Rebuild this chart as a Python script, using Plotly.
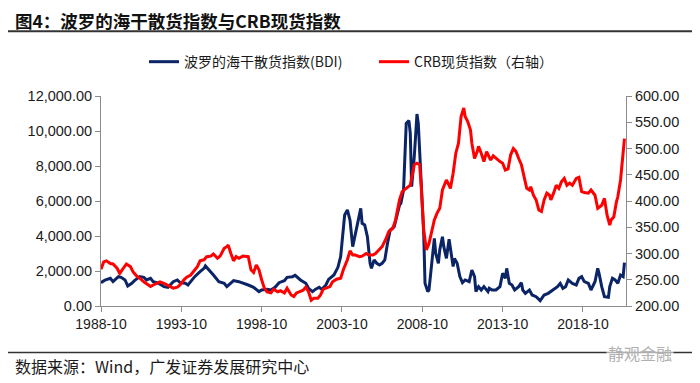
import plotly.graph_objects as go

title_text = "图4：波罗的海干散货指数与CRB现货指数"
source_text = "数据来源：Wind，广发证券发展研究中心"
watermark_text = "静观金融"
bdi_name = "波罗的海干散货指数(BDI)"
crb_name = "CRB现货指数（右轴）"

bdi_dates = ["1988-10","1989-01","1989-05","1989-07","1989-11","1990-01","1990-04","1990-06","1990-09","1990-11",
             "1991-03","1991-06","1991-08","1991-11","1992-01","1992-05","1992-09","1992-12","1993-04","1993-07",
             "1993-09","1994-01","1994-03","1994-06","1994-08","1994-12","1995-03","1995-04","1995-07","1995-10",
             "1996-02","1996-06","1996-08","1996-11","1997-01","1997-05","1997-09","1997-12","1998-04","1998-08",
             "1998-10","1999-02","1999-05","1999-08","1999-11","2000-03","2000-05","2000-09","2000-11","2001-03",
             "2001-07","2001-09","2001-12","2002-02","2002-05","2002-07","2002-10","2002-12","2003-04","2003-07",
             "2003-09","2003-11","2003-12","2004-02","2004-04","2004-06","2004-08","2004-09","2004-11","2004-12",
             "2005-01","2005-03","2005-05","2005-07","2005-08","2005-10","2005-12","2006-02","2006-04","2006-06",
             "2006-08","2006-10","2007-01","2007-03","2007-05","2007-06","2007-08","2007-10","2007-12","2008-01",
             "2008-02","2008-04","2008-06","2008-07","2008-09","2008-11","2008-12","2009-02","2009-03","2009-04",
             "2009-05","2009-07","2009-08","2009-10","2009-11","2010-01","2010-02","2010-04","2010-06","2010-08",
             "2010-09","2010-10","2010-12","2011-02","2011-04","2011-06","2011-09","2011-11","2012-01","2012-02",
             "2012-04","2012-06","2012-08","2012-11","2012-12","2013-02","2013-05","2013-08","2013-10","2013-12",
             "2014-01","2014-03","2014-05","2014-07","2014-10","2014-12","2015-01","2015-03","2015-06","2015-08",
             "2015-11","2016-02","2016-05","2016-08","2016-10","2017-01","2017-03","2017-05","2017-07","2017-09",
             "2017-11","2018-02","2018-05","2018-07","2018-09","2018-11","2019-02","2019-04","2019-07","2019-09",
             "2019-10","2019-12","2020-02","2020-05","2020-06","2020-08","2020-10","2020-12","2021-02","2021-04",
             "2021-05"]
bdi_values = [1333,1486,1580,1390,1676,1640,1490,1143,1300,1450,
              1676,1640,1490,1580,1390,1300,1105,1070,1390,1490,
              1333,1300,1200,1490,1676,1960,2150,2290,2057,1770,
              1390,1300,1105,1333,1450,1390,1300,1200,1070,820,
              914,950,914,1070,1333,1450,1640,1676,1750,1490,
              1300,1010,820,950,1070,950,1200,1520,1770,2210,
              2820,4250,5200,5490,4900,3390,4150,4340,5200,5580,
              4720,4630,3960,2440,2150,2630,2440,2340,2440,2630,
              3580,4340,4530,5100,5770,5870,6630,10440,10590,9870,
              6820,8530,10970,10440,7580,4150,1295,820,914,1676,
              2440,3870,3010,2440,3200,3960,3390,2720,3810,2820,
              2250,2720,2440,1676,1333,1490,1390,2057,1676,820,
              1105,914,1105,820,1010,914,914,1105,1870,1580,
              2150,1295,1200,914,1105,1333,914,724,914,629,
              533,305,629,724,820,1010,1105,1295,1010,1105,
              1490,1295,1200,1580,1676,1390,1295,914,1390,2150,
              1870,1105,533,495,1105,1580,1490,1295,1770,1676,
              2480]

crb_dates = ["1988-10","1988-12","1989-02","1989-05","1989-07","1989-10","1989-12","1990-03","1990-05","1990-08",
             "1990-10","1991-01","1991-03","1991-06","1991-08","1991-11","1992-01","1992-04","1992-06","1992-09",
             "1992-11","1993-02","1993-04","1993-07","1993-09","1993-12","1994-02","1994-05","1994-07","1994-10",
             "1994-12","1995-03","1995-05","1995-08","1995-10","1996-01","1996-03","1996-06","1996-08","1996-09",
             "1996-11","1997-01","1997-03","1997-05","1997-08","1997-10","1997-12","1998-02","1998-04","1998-06",
             "1998-08","1998-10","1998-12","1999-02","1999-05","1999-07","1999-10","1999-12","2000-03","2000-05",
             "2000-08","2000-10","2000-12","2001-02","2001-05","2001-07","2001-09","2001-11","2002-01","2002-04",
             "2002-06","2002-08","2002-10","2003-01","2003-03","2003-06","2003-09","2003-11","2004-02","2004-04",
             "2004-06","2004-08","2004-11","2005-01","2005-04","2005-06","2005-09","2005-11","2006-02","2006-04",
             "2006-07","2006-09","2006-12","2007-02","2007-05","2007-07","2007-10","2008-01","2008-04","2008-06",
             "2008-08","2008-09","2008-11","2009-01","2009-03","2009-04","2009-07","2009-09","2009-11","2010-01",
             "2010-02","2010-04","2010-06","2010-07","2010-09","2010-11","2011-01","2011-03","2011-05","2011-06",
             "2011-08","2011-10","2011-11","2012-01","2012-03","2012-04","2012-06","2012-08","2012-10","2012-11",
             "2013-01","2013-03","2013-05","2013-08","2013-10","2013-12","2014-02","2014-04","2014-06","2014-08",
             "2014-10","2014-12","2015-02","2015-04","2015-06","2015-07","2015-09","2015-11","2016-01","2016-03",
             "2016-05","2016-07","2016-09","2016-10","2016-12","2017-02","2017-04","2017-06","2017-08","2017-10",
             "2017-12","2018-02","2018-05","2018-07","2018-09","2018-11","2019-02","2019-04","2019-07","2019-09",
             "2019-12","2020-02","2020-04","2020-06","2020-07","2020-09","2020-11","2020-12","2021-02","2021-04",
             "2021-05"]
crb_values = [270,284,286,281,280,272,262,272,280,275,
              265,256,253,246,243,237,240,243,246,243,
              240,237,234,236,240,250,255,259,265,275,
              286,288,294,295,299,291,295,310,313,316,
              300,286,294,291,295,294,294,269,264,278,
              269,250,234,227,225,232,227,229,225,234,
              221,218,225,227,230,236,227,211,215,215,
              221,232,234,237,246,251,253,269,288,305,
              297,297,294,295,300,297,297,300,308,313,
              329,342,348,364,402,418,424,430,469,472,
              469,434,345,307,319,332,364,377,386,421,
              427,440,430,424,453,491,510,561,577,561,
              551,535,510,481,494,504,491,475,494,488,
              478,486,481,475,472,459,461,488,500,494,
              481,469,446,424,421,427,411,402,383,380,
              402,415,411,402,415,430,424,437,443,430,
              434,430,443,445,418,416,415,421,411,386,
              392,405,373,354,364,370,399,408,440,484,
              519]

left_ticks = [0, 2000, 4000, 6000, 8000, 10000, 12000]
right_ticks = [200, 250, 300, 350, 400, 450, 500, 550, 600]

FONT = "Liberation Sans, Arial, Noto Sans CJK SC, sans-serif"
CJK = "Noto Sans CJK SC, Liberation Sans, sans-serif"
NAVY = "#0b2466"
RED = "#ff0000"
AXIS = "#8c8c8c"

# the page body adds an 8px offset; work in page pixels and subtract it
OFF = 8
W, H = 700 - OFF, 383 - OFF
L, R, T, B = 101 - OFF, 626 - OFF, 96 - OFF, 306.5 - OFF
def px(x):
    return (x - OFF - L) / (R - L)
def py(y):
    return (B - (y - OFF)) / (B - T)

fig = go.Figure()
fig.add_trace(go.Scatter(x=bdi_dates, y=bdi_values, name=bdi_name, mode="lines",
                         line=dict(color=NAVY, width=3), yaxis="y"))
fig.add_trace(go.Scatter(x=crb_dates, y=crb_values, name=crb_name, mode="lines",
                         line=dict(color=RED, width=3), yaxis="y2"))

fig.update_layout(
    width=W, height=H,
    margin=dict(l=L, r=W - R, t=T, b=H - B),
    paper_bgcolor="white", plot_bgcolor="white",
    font=dict(family=FONT, size=14, color="#1a1a1a"),
    showlegend=True,
    legend=dict(orientation="h", x=px(144), y=py(62), xanchor="left", yanchor="middle",
                font=dict(family=CJK, size=14, color="#1a1a1a"),
                entrywidth=185, bgcolor="rgba(0,0,0,0)", tracegroupgap=0),
    title=dict(text="<b>" + title_text + "</b>", xref="container", yref="container",
               x=(15 - OFF) / W, y=1 - (21.5 - OFF) / H, xanchor="left", yanchor="middle",
               font=dict(family=CJK, size=17.5, color="#111111")),
    xaxis=dict(type="date", range=["1988-10-01", "2021-06-05"], tick0="1988-10-01", dtick="M60",
               tickformat="%Y-%m", showgrid=False, zeroline=False, showline=True, linecolor=AXIS,
               linewidth=1, ticks="outside", ticklen=5, tickcolor=AXIS,
               tickfont=dict(family=FONT, size=14, color="#1a1a1a")),
    yaxis=dict(range=[0, 12000], tickvals=left_ticks, tickformat=",.2f", showgrid=False,
               zeroline=False, showline=True, linecolor=AXIS, linewidth=1, ticks="outside",
               ticklen=5, tickcolor=AXIS, tickfont=dict(family=FONT, size=14.5, color="#1a1a1a")),
    yaxis2=dict(range=[200, 600], tickvals=right_ticks, tickformat=".2f", overlaying="y",
                side="right", showgrid=False, zeroline=False, showline=True, linecolor=AXIS,
                linewidth=1, ticks="outside", ticklen=5, tickcolor=AXIS,
                tickfont=dict(family=FONT, size=14.5, color="#1a1a1a")),
)

# title underline and footer rule
fig.add_shape(type="line", xref="paper", yref="paper", x0=px(3), x1=px(697), y0=py(31), y1=py(31),
              line=dict(color="#333333", width=2))
fig.add_shape(type="line", xref="paper", yref="paper", x0=px(3), x1=px(697), y0=py(353), y1=py(353),
              line=dict(color="#333333", width=1.5))

fig.add_annotation(text=source_text, xref="paper", yref="paper", x=px(13), y=py(367),
                   xanchor="left", yanchor="middle", showarrow=False,
                   font=dict(family=CJK, size=16, color="#1a1a1a"))
fig.add_annotation(text=watermark_text, xref="paper", yref="paper", x=px(606), y=py(354),
                   xanchor="left", yanchor="middle", showarrow=False,
                   font=dict(family=CJK, size=16, color="#b0b0b0"), bgcolor="rgba(255,255,255,0.6)")

fig.write_html("out.html")
